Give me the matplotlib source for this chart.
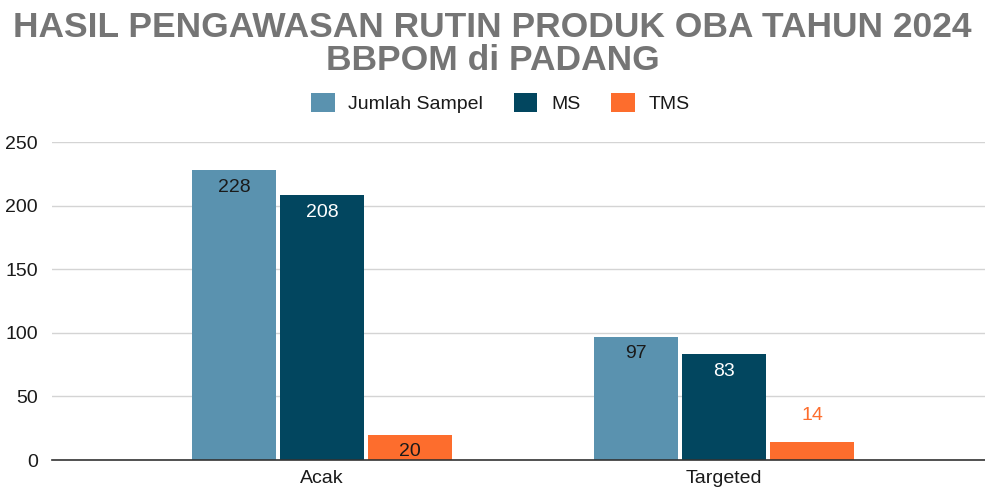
import numpy as np
import matplotlib.pyplot as plt

categories = ["Acak", "Targeted"]
series_names = ["Jumlah Sampel", "MS", "TMS"]
jumlah_sampel = [228, 97]
ms = [208, 83]
tms = [20, 14]

colors = ["#5a92af", "#02465f", "#fd6d2d"]
label_colors = ["#1a1a1a", "#ffffff", "#1a1a1a"]

plt.rcParams["font.family"] = ["Liberation Sans", "DejaVu Sans"]

fig = plt.figure(figsize=(9.85, 4.87), dpi=100)
ax = fig.add_axes([0.0528, 0.0554, 0.9472, 0.653])

x = np.arange(len(categories))
width = 0.209
step = 0.219
values = [jumlah_sampel, ms, tms]
for i, (vals, c, lc) in enumerate(zip(values, colors, label_colors)):
    pos = x + (i - 1) * step
    bars = ax.bar(pos, vals, width=width, color=c, label=series_names[i], zorder=3)
    for b, v in zip(bars, vals):
        cx = b.get_x() + b.get_width() / 2
        if v >= 18:
            ax.text(cx, v - 13.5, str(v), ha="center", va="center",
                    color=lc, fontsize=14, zorder=4)
        else:
            ax.text(cx, v + 21, str(v), ha="center", va="center",
                    color=c, fontsize=14, zorder=4)

ax.set_xlim(-0.672, 1.649)
ax.set_ylim(0, 250)
ax.set_yticks([0, 50, 100, 150, 200, 250])
ax.set_xticks(x)
ax.set_xticklabels(categories, fontsize=14)
ax.tick_params(axis="y", length=0, labelsize=14, pad=10, colors="#1a1a1a")
ax.tick_params(axis="x", length=0, pad=7, colors="#1a1a1a")
ax.grid(axis="y", color="#d4d4d4", linewidth=1, zorder=0)
for s in ["top", "right", "left"]:
    ax.spines[s].set_visible(False)
ax.spines["bottom"].set_color("#333333")
ax.spines["bottom"].set_linewidth(1.2)
ax.spines["bottom"].set_zorder(5)

fig.text(0.5, 0.943, "HASIL PENGAWASAN RUTIN PRODUK OBA TAHUN 2024",
         ha="center", va="center", fontsize=25.5, fontweight="bold",
         color="#757575")
fig.text(0.5, 0.876, "BBPOM di PADANG",
         ha="center", va="center", fontsize=25.5, fontweight="bold",
         color="#757575")

leg = fig.legend(loc="center", bbox_to_anchor=(0.508, 0.788), ncol=3, frameon=False,
                 handlelength=1.2, handleheight=1.1, handletextpad=0.7,
                 columnspacing=1.6, prop={"size": 14})
for t in leg.get_texts():
    t.set_color("#1a1a1a")

fig.savefig("out.png", dpi=100)
